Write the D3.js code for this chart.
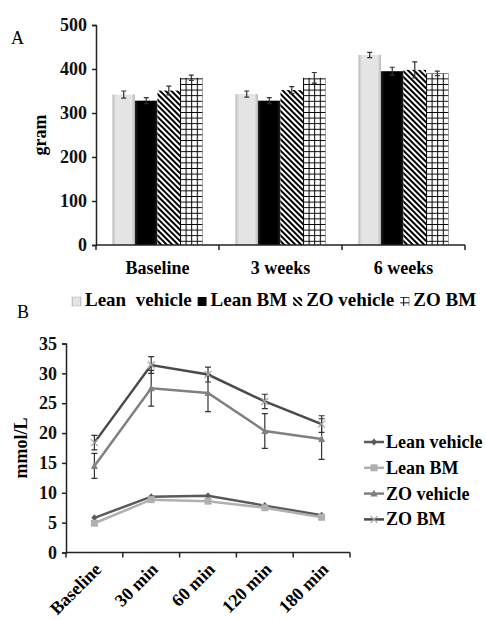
<!DOCTYPE html>
<html>
<head>
<meta charset="utf-8">
<script src="https://cdn.jsdelivr.net/npm/d3@7"></script>
<style>
  body { margin: 0; background: #fff; }
  svg { display: block; }
  text { font-family: "Liberation Serif", "Times New Roman", serif; }
</style>
</head>
<body>
<svg id="chart" width="486" height="620"></svg>
<script>
// ---- panel A data (body weight, gram) ----
const weekCats = ["Baseline", "3 weeks", "6 weeks"];
const barSeries = ["Lean  vehicle", "Lean BM", "ZO vehicle", "ZO BM"];
const weightMean = [
  [342, 328, 351, 380],
  [343, 328, 352, 380],
  [432, 395, 398, 390]
];
const weightErr = [
  [8, 7, 10, 6],
  [7, 7, 8, 12],
  [6, 9, 18, 5]
];
const weightTicks = [0, 100, 200, 300, 400, 500];

// ---- panel B data (glucose, mmol/L) ----
const timeCats = ["Baseline", "30 min", "60 min", "120 min", "180 min"];
const lineSeries = ["Lean vehicle", "Lean BM", "ZO vehicle", "ZO BM"];
const leanVehicle = [5.8, 9.35, 9.5, 7.85, 6.25];
const leanBM = [4.9, 8.85, 8.6, 7.5, 5.9];
const zoVehicle = [14.5, 27.5, 26.7, 20.35, 19.0];
const zoBM = [18.4, 31.4, 29.8, 25.3, 21.5];
const zoVehicleErr = [2.1, 3.0, 3.1, 2.9, 3.4];
const zoBMErr = [1.2, 1.4, 1.25, 1.2, 1.4];
const glucoseTicks = [0, 5, 10, 15, 20, 25, 30, 35];

const svg = d3.select("#chart");
const defs = svg.append("defs");

// bar fills
let g1 = defs.append("linearGradient").attr("id", "leanFill");
g1.append("stop").attr("offset", "0%").attr("stop-color", "#b8b8b8");
g1.append("stop").attr("offset", "15%").attr("stop-color", "#e4e4e4");
g1.append("stop").attr("offset", "85%").attr("stop-color", "#e4e4e4");
g1.append("stop").attr("offset", "100%").attr("stop-color", "#b8b8b8");

let g2 = defs.append("linearGradient").attr("id", "bmFill");
g2.append("stop").attr("offset", "0%").attr("stop-color", "#222");
g2.append("stop").attr("offset", "15%").attr("stop-color", "#000");
g2.append("stop").attr("offset", "85%").attr("stop-color", "#000");
g2.append("stop").attr("offset", "100%").attr("stop-color", "#222");

let hatch = defs.append("pattern").attr("id", "hatch")
  .attr("patternUnits", "userSpaceOnUse").attr("width", 4).attr("height", 4)
  .attr("patternTransform", "rotate(-45)");
hatch.append("rect").attr("width", 4).attr("height", 4).attr("fill", "#fff");
hatch.append("rect").attr("width", 2).attr("height", 4).attr("fill", "#000");

let grid = defs.append("pattern").attr("id", "grid")
  .attr("patternUnits", "userSpaceOnUse").attr("width", 5.6).attr("height", 5.6);
grid.append("rect").attr("width", 5.6).attr("height", 5.6).attr("fill", "#fff");
grid.append("path").attr("d", "M0,0.5H5.6M0.5,0V5.6").attr("stroke", "#000").attr("stroke-width", 1);

const barFills = ["url(#leanFill)", "url(#bmFill)", "url(#hatch)", "url(#grid)"];

// ================= PANEL A =================
const yA = d3.scaleLinear().domain([0, 500]).range([245, 25]);
const x0 = d3.scaleBand().domain(weekCats).range([96, 465]).padding(0);
const x1 = d3.scaleBand().domain(barSeries).range([0, x0.bandwidth()])
  .paddingInner(0).paddingOuter(0.73);

svg.append("text").attr("x", 11).attr("y", 44).attr("font-size", 18).text("A");

let groups = svg.append("g").selectAll("g").data(weekCats).enter().append("g")
  .attr("transform", d => `translate(${x0(d)},0)`);

groups.each(function(cat, ci) {
  let g = d3.select(this);
  barSeries.forEach((s, si) => {
    let v = weightMean[ci][si];
    g.append("rect")
      .attr("x", x1(s)).attr("y", yA(v))
      .attr("width", x1.bandwidth()).attr("height", yA(0) - yA(v))
      .attr("fill", barFills[si]);
    // error bar
    let cx = x1(s) + x1.bandwidth() / 2;
    let e = weightErr[ci][si];
    g.append("path")
      .attr("d", `M${cx},${yA(v + e)}V${yA(v - e)}M${cx - 2.5},${yA(v + e)}H${cx + 2.5}M${cx - 2.5},${yA(v - e)}H${cx + 2.5}`)
      .attr("stroke", "#333").attr("stroke-width", 1.2).attr("fill", "none");
  });
});

// y axis A
let axA = svg.append("g").attr("transform", "translate(96,0)")
  .call(d3.axisLeft(yA).tickValues(weightTicks).tickSize(4).tickPadding(5));
axA.select(".domain").attr("stroke", "#222").attr("stroke-width", 1.5);
axA.selectAll(".tick line").attr("stroke", "#222").attr("stroke-width", 1.5);
axA.selectAll(".tick text").attr("font-size", 18).attr("font-weight", "bold")
  .attr("font-family", "Liberation Serif").attr("fill", "#111");

// x axis A (ticks at group boundaries)
let baseA = svg.append("g");
baseA.append("line").attr("x1", 96).attr("x2", 465).attr("y1", yA(0)).attr("y2", yA(0))
  .attr("stroke", "#222").attr("stroke-width", 1.5);
weekCats.forEach(c => {
  baseA.append("line").attr("x1", x0(c)).attr("x2", x0(c)).attr("y1", yA(0)).attr("y2", yA(0) + 5)
    .attr("stroke", "#222").attr("stroke-width", 1.5);
});
baseA.append("line").attr("x1", 465).attr("x2", 465).attr("y1", yA(0)).attr("y2", yA(0) + 5)
  .attr("stroke", "#222").attr("stroke-width", 1.5);
baseA.selectAll("text.cat").data(weekCats).enter().append("text")
  .attr("x", d => x0(d) + x0.bandwidth() / 2).attr("y", 274)
  .attr("text-anchor", "middle").attr("font-size", 18).attr("font-weight", "bold")
  .text(d => d);

svg.append("text").attr("transform", "translate(46,135) rotate(-90)")
  .attr("text-anchor", "middle").attr("font-size", 18).attr("font-weight", "bold").text("gram");

// legend A
let legA = svg.append("g");
let lx = 72;
barSeries.forEach((s, si) => {
  legA.append("rect").attr("x", lx).attr("y", 297).attr("width", 9).attr("height", 9)
    .attr("fill", barFills[si]).attr("stroke", si === 0 ? "#bbb" : "none").attr("stroke-width", 0.6);
  let t = legA.append("text").attr("x", lx + 13).attr("y", 306)
    .attr("font-size", 19).attr("font-weight", "bold").attr("xml:space", "preserve")
    .style("white-space", "pre").text(s);
  lx += 13 + t.node().getComputedTextLength() + 6;
});

// ================= PANEL B =================
svg.append("text").attr("x", 17).attr("y", 318).attr("font-size", 18).text("B");

const yB = d3.scaleLinear().domain([0, 35]).range([552.5, 343.5]);
const xB = d3.scaleBand().domain(timeCats).range([66, 350]).padding(0);
const cxB = d => xB(d) + xB.bandwidth() / 2;

let axB = svg.append("g").attr("transform", "translate(66,0)")
  .call(d3.axisLeft(yB).tickValues(glucoseTicks).tickSize(4).tickPadding(5));
axB.select(".domain").attr("stroke", "#222").attr("stroke-width", 1.5);
axB.selectAll(".tick line").attr("stroke", "#222").attr("stroke-width", 1.5);
axB.selectAll(".tick text").attr("font-size", 18).attr("font-weight", "bold")
  .attr("font-family", "Liberation Serif").attr("fill", "#111");

let baseB = svg.append("g");
baseB.append("line").attr("x1", 66).attr("x2", 350).attr("y1", yB(0)).attr("y2", yB(0))
  .attr("stroke", "#222").attr("stroke-width", 1.5);
timeCats.forEach(c => {
  baseB.append("line").attr("x1", xB(c)).attr("x2", xB(c)).attr("y1", yB(0)).attr("y2", yB(0) + 5)
    .attr("stroke", "#222").attr("stroke-width", 1.5);
});
baseB.append("line").attr("x1", 350).attr("x2", 350).attr("y1", yB(0)).attr("y2", yB(0) + 5)
  .attr("stroke", "#222").attr("stroke-width", 1.5);
baseB.selectAll("text.cat").data(timeCats).enter().append("text")
  .attr("transform", d => `translate(${cxB(d) + 8},${yB(0) + 18}) rotate(-45)`)
  .attr("text-anchor", "end")
  .attr("font-size", 18).attr("font-weight", "bold").text(d => d);

svg.append("text").attr("transform", "translate(27,448) rotate(-90)")
  .attr("text-anchor", "middle").attr("font-size", 18).attr("font-weight", "bold").text("mmol/L");

const lineData = [leanVehicle, leanBM, zoVehicle, zoBM];
const lineErr = [null, null, zoVehicleErr, zoBMErr];
const lineColors = ["#5a5a5a", "#b0b0b0", "#808080", "#4a4a4a"];
const markerColors = ["#5a5a5a", "#b0b0b0", "#808080", "#a8a8a8"];
const markerTypes = ["diamond", "square", "triangle", "x"];

function drawMarker(g, type, x, y, color) {
  if (type === "diamond") {
    g.append("path").attr("d", `M${x},${y - 3.5}L${x + 3},${y}L${x},${y + 3.5}L${x - 3},${y}Z`).attr("fill", color);
  } else if (type === "square") {
    g.append("rect").attr("x", x - 3.5).attr("y", y - 3.5).attr("width", 7).attr("height", 7).attr("fill", color);
  } else if (type === "triangle") {
    g.append("path").attr("d", `M${x},${y - 4}L${x + 3.5},${y + 3}L${x - 3.5},${y + 3}Z`).attr("fill", color);
  } else {
    g.append("path").attr("d", `M${x - 3.5},${y - 3.5}L${x + 3.5},${y + 3.5}M${x - 3.5},${y + 3.5}L${x + 3.5},${y - 3.5}`)
      .attr("stroke", color).attr("stroke-width", 1.3);
  }
}

let line = d3.line().x((d, i) => cxB(timeCats[i])).y(d => yB(d));
let linesG = svg.append("g");
lineData.forEach((vals, si) => {
  linesG.append("path").datum(vals).attr("d", line)
    .attr("fill", "none").attr("stroke", lineColors[si]).attr("stroke-width", 2.5);
});
lineData.forEach((vals, si) => {
  if (lineErr[si]) {
    vals.forEach((v, i) => {
      let x = cxB(timeCats[i]), e = lineErr[si][i];
      linesG.append("path")
        .attr("d", `M${x},${yB(v + e)}V${yB(v - e)}M${x - 3},${yB(v + e)}H${x + 3}M${x - 3},${yB(v - e)}H${x + 3}`)
        .attr("stroke", "#333").attr("stroke-width", 1.2).attr("fill", "none");
    });
  }
  vals.forEach((v, i) => drawMarker(linesG, markerTypes[si], cxB(timeCats[i]), yB(v), markerColors[si]));
});

// legend B
let legB = svg.append("g");
lineSeries.forEach((s, si) => {
  let y = 442 + si * 25.8;
  legB.append("line").attr("x1", 364).attr("x2", 384).attr("y1", y).attr("y2", y)
    .attr("stroke", lineColors[si]).attr("stroke-width", 2.5);
  drawMarker(legB, markerTypes[si], 374, y, markerColors[si]);
  legB.append("text").attr("x", 386).attr("y", y + 6)
    .attr("font-size", 18).attr("font-weight", "bold").text(s);
});
</script>
</body>
</html>
